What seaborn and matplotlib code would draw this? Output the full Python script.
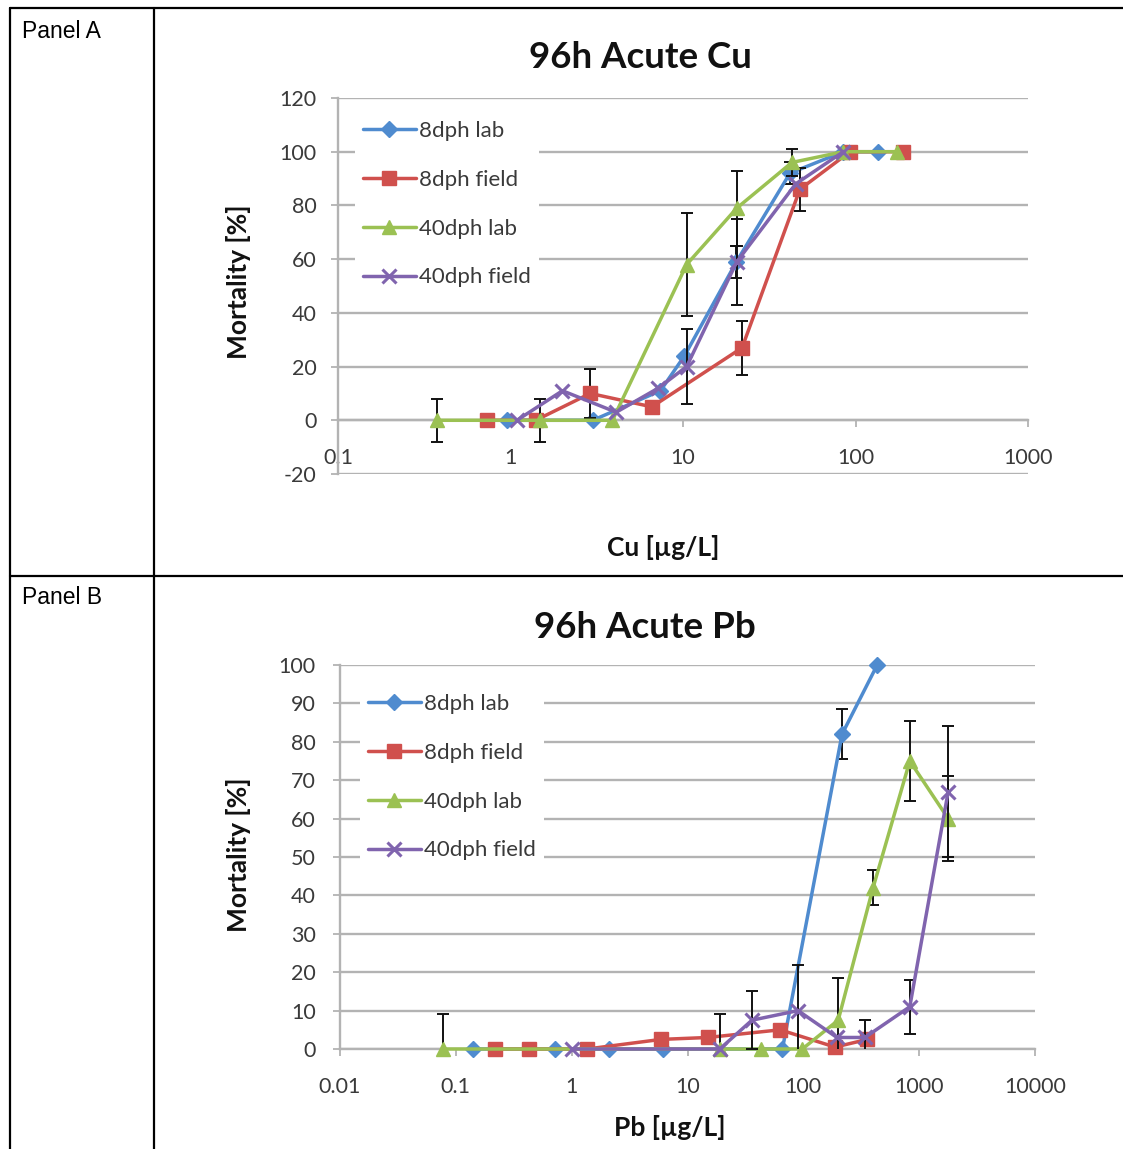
import numpy as np
import pandas as pd
import matplotlib
matplotlib.use("Agg")
import matplotlib.pyplot as plt
import seaborn as sns
from matplotlib.lines import Line2D
from matplotlib.ticker import FixedLocator, FixedFormatter, NullLocator

# ---------------- data ----------------
series_names = ["8dph lab", "8dph field", "40dph lab", "40dph field"]

# Panel A: 96h Acute Cu
cu_8lab_x = [0.95, 3.0, 7.4, 10.2, 20.4, 41.7, 85, 135]
cu_8lab_y = [0, 0, 11, 24, 59, 92, 100, 100]
cu_8lab_err = [0, 0, 0, 0, 6, 4, 0, 0]

cu_8field_x = [0.73, 1.4, 2.9, 6.6, 22, 47.6, 93, 188]
cu_8field_y = [0, 0, 10, 5, 27, 86, 100, 100]
cu_8field_err = [0, 0, 9, 0, 10, 8, 0, 0]

cu_40lab_x = [0.375, 1.48, 3.9, 10.5, 20.5, 42.8, 85, 174]
cu_40lab_y = [0, 0, 0, 58, 79, 96, 100, 100]
cu_40lab_err = [8, 8, 0, 19, 14, 5, 0, 0]

cu_40field_x = [1.09, 2.0, 4.1, 7.2, 10.5, 20.5, 45, 85]
cu_40field_y = [0, 11, 3, 12, 20, 59, 88, 100]
cu_40field_err = [0, 0, 0, 0, 14, 16, 0, 0]

cu_xticks = [0.1, 1, 10, 100, 1000]
cu_xticklabels = ["0.1", "1", "10", "100", "1000"]
cu_yticks = [-20, 0, 20, 40, 60, 80, 100, 120]

# Panel B: 96h Acute Pb
pb_8lab_x = [0.14, 0.72, 2.1, 6.2, 66, 216, 434]
pb_8lab_y = [0, 0, 0, 0, 0, 82, 100]
pb_8lab_err = [0, 0, 0, 0, 0, 6.5, 0]

pb_8field_x = [0.22, 0.43, 1.36, 5.9, 15, 63, 188, 357]
pb_8field_y = [0, 0, 0, 2.5, 3, 5, 0.5, 2.5]
pb_8field_err = [0, 0, 0, 0, 0, 0, 0, 0]

pb_40lab_x = [0.078, 19, 43, 98, 200, 400, 830, 1780]
pb_40lab_y = [0, 0, 0, 0, 7.5, 42, 75, 60]
pb_40lab_err = [9, 9, 0, 0, 11, 4.5, 10.5, 11]

pb_40field_x = [1.0, 19, 36, 90, 195, 340, 830, 1780]
pb_40field_y = [0, 0, 7.5, 10, 3, 3, 11, 67]
pb_40field_err = [0, 0, 7.5, 12, 0, 4.5, 7, 17]

pb_xticks = [0.01, 0.1, 1, 10, 100, 1000, 10000]
pb_xticklabels = ["0.01", "0.1", "1", "10", "100", "1000", "10000"]
pb_yticks = [0, 10, 20, 30, 40, 50, 60, 70, 80, 90, 100]

# ---------------- style ----------------
sns.set_theme(style="white")
plt.rcParams["font.family"] = ["Lato", "DejaVu Sans"]
plt.rcParams["axes.unicode_minus"] = False

colors = ["#4F8BCF", "#D0504D", "#9BC153", "#8064AE"]
markers = ["D", "s", "^", "x"]
msizes = [8.5, 10.5, 10.5, 10.5]

W, H = 1123, 1149
fig = plt.figure(figsize=(W / 100, H / 100), dpi=100)

GRID = "#b3b3b3"
TXT = "#3a3a3a"


def fx(px):
    return px / W


def fy(py):
    return 1 - py / H


def draw_panel(ax, xs, ys, es, xlim, ylim, xticks, xticklabels, yticks,
               xpad, ypad):
    ax.set_xscale("log")
    for i, (x, y, e) in enumerate(zip(xs, ys, es)):
        df = pd.DataFrame({"conc": x, "mort": y})
        x_arr = np.array(x, dtype=float)
        y_arr = np.array(y, dtype=float)
        e_arr = np.array(e, dtype=float)
        m = e_arr > 0
        if m.any():
            ax.errorbar(x_arr[m], y_arr[m], yerr=e_arr[m], fmt="none",
                        ecolor="#111111", elinewidth=1.4, capsize=4.5,
                        capthick=1.4, zorder=3 + i)
        sns.lineplot(data=df, x="conc", y="mort", ax=ax, color=colors[i],
                     marker=markers[i], markersize=msizes[i],
                     markeredgecolor=colors[i],
                     markeredgewidth=2.2 if markers[i] == "x" else 1.0,
                     linewidth=2.5, sort=False, estimator=None,
                     label=series_names[i], zorder=3.5 + i, clip_on=False)
    ax.set_xlim(*xlim)
    ax.set_ylim(*ylim)
    ax.xaxis.set_major_locator(FixedLocator(xticks))
    ax.xaxis.set_major_formatter(FixedFormatter(xticklabels))
    ax.xaxis.set_minor_locator(NullLocator())
    ax.set_yticks(yticks)
    ax.set_xlabel("")
    ax.set_ylabel("")
    ax.yaxis.grid(True, color=GRID, linewidth=1.7)
    ax.xaxis.grid(False)
    ax.set_axisbelow(True)
    for s in ["top", "right"]:
        ax.spines[s].set_visible(False)
    for s in ["left", "bottom"]:
        ax.spines[s].set_color(GRID)
        ax.spines[s].set_linewidth(1.7)
    ax.tick_params(axis="x", which="major", direction="out", length=5,
                   width=1.3, color=GRID, labelsize=15.5, labelcolor=TXT,
                   pad=xpad, bottom=True)
    ax.tick_params(axis="y", which="major", direction="out", length=5,
                   width=1.3, color=GRID, labelsize=15.5, labelcolor=TXT,
                   pad=ypad, left=True)
    ax.set_facecolor("white")


# Panel A
axA = fig.add_axes([fx(338), fy(474), fx(1028 - 338), (474 - 98) / H])
draw_panel(axA,
           [cu_8lab_x, cu_8field_x, cu_40lab_x, cu_40field_x],
           [cu_8lab_y, cu_8field_y, cu_40lab_y, cu_40field_y],
           [cu_8lab_err, cu_8field_err, cu_40lab_err, cu_40field_err],
           (0.1, 1000), (-20, 120), cu_xticks, cu_xticklabels, cu_yticks,
           xpad=15, ypad=10.5)
axA.spines["bottom"].set_position(("data", 0))

# Panel B
axB = fig.add_axes([fx(340), fy(1049), fx(1035 - 340), (1049 - 665) / H])
draw_panel(axB,
           [pb_8lab_x, pb_8field_x, pb_40lab_x, pb_40field_x],
           [pb_8lab_y, pb_8field_y, pb_40lab_y, pb_40field_y],
           [pb_8lab_err, pb_8field_err, pb_40lab_err, pb_40field_err],
           (0.01, 10000), (0, 100), pb_xticks, pb_xticklabels, pb_yticks,
           xpad=15, ypad=12.5)


def make_legend(ax, anchor):
    handles, labels = ax.get_legend_handles_labels()
    leg = ax.legend(handles, labels, loc="upper left",
                    bbox_to_anchor=anchor, bbox_transform=fig.transFigure,
                    frameon=True, facecolor="white", edgecolor="none",
                    framealpha=1, fancybox=False, fontsize=16,
                    handlelength=2.4, handletextpad=0.15, labelspacing=1.3,
                    borderpad=0.35, borderaxespad=0)
    for t in leg.get_texts():
        t.set_color(TXT)
    return leg


make_legend(axA, (fx(355), fy(113)))
make_legend(axB, (fx(360), fy(686)))

# Titles and axis labels
fig.text(fx(640), fy(58), "96h Acute Cu", ha="center", va="center",
         fontsize=26.5, fontweight="bold", color="#111111")
fig.text(fx(238), fy(282), "Mortality [%]", ha="center", va="center",
         rotation=90, fontsize=19, fontweight="bold", color="#111111")
fig.text(fx(663), fy(548), "Cu [µg/L]", ha="center", va="center",
         fontsize=19, fontweight="bold", color="#111111")

fig.text(fx(645), fy(628), "96h Acute Pb", ha="center", va="center",
         fontsize=26.5, fontweight="bold", color="#111111")
fig.text(fx(238), fy(855), "Mortality [%]", ha="center", va="center",
         rotation=90, fontsize=19, fontweight="bold", color="#111111")
fig.text(fx(670), fy(1127), "Pb [µg/L]", ha="center", va="center",
         fontsize=19, fontweight="bold", color="#111111")

# Table frame
panel_font = ["Liberation Sans", "DejaVu Sans"]
fig.text(fx(22), fy(31), "Panel A", ha="left", va="center", fontsize=16.5,
         family=panel_font, color="black")
fig.text(fx(22), fy(598), "Panel B", ha="left", va="center", fontsize=16.5,
         family=panel_font, color="black")

for (x0, y0, x1, y1) in [(10, 8, W, 8), (10, 576, W, 576),
                         (10, 8, 10, H), (154, 8, 154, H)]:
    fig.add_artist(Line2D([fx(x0), fx(x1)], [fy(y0), fy(y1)],
                          transform=fig.transFigure, color="black",
                          linewidth=1.6))

fig.savefig("out.png", dpi=100, facecolor="white")
